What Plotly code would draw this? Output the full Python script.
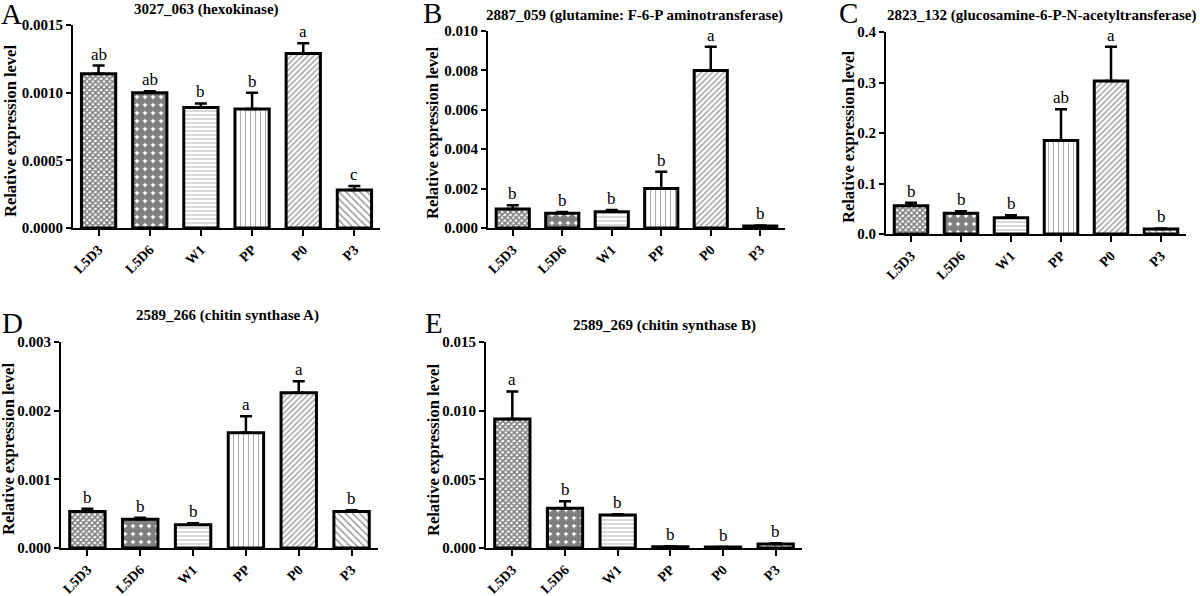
import plotly.graph_objects as go

# ---------------- data ----------------
categories = ["L5D3", "L5D6", "W1", "PP", "P0", "P3"]

A_mean = [0.00114, 0.00100, 0.00089, 0.00088, 0.00129, 0.00028]
A_err = [0.00006, 0.00001, 0.00003, 0.00012, 0.000075, 0.00003]
A_sig = ["ab", "ab", "b", "b", "a", "c"]

B_mean = [0.00097, 0.00075, 0.00082, 0.0020, 0.0080, 0.0001]
B_err = [0.00018, 0.00006, 0.00010, 0.00085, 0.0012, 0.00003]
B_sig = ["b", "b", "b", "b", "a", "b"]

C_mean = [0.056, 0.041, 0.032, 0.185, 0.303, 0.010]
C_err = [0.006, 0.004, 0.005, 0.062, 0.068, 0.001]
C_sig = ["b", "b", "b", "ab", "a", "b"]

D_mean = [0.00053, 0.00042, 0.00034, 0.00168, 0.00226, 0.00053]
D_err = [0.00004, 0.00002, 0.00002, 0.00024, 0.00017, 0.00002]
D_sig = ["b", "b", "b", "a", "a", "b"]

E_mean = [0.0094, 0.0029, 0.0024, 0.0001, 0.00007, 0.0003]
E_err = [0.0020, 0.0005, 0.00005, 0.00003, 0.00001, 0.00005]
E_sig = ["a", "b", "b", "b", "b", "b"]

titles = ["3027_063 (hexokinase)",
          "2887_059 (glutamine: F-6-P aminotransferase)",
          "2823_132 (glucosamine-6-P-N-acetyltransferase)",
          "2589_266 (chitin synthase A)",
          "2589_269 (chitin synthase B)"]
panel_letters = ["A", "B", "C", "D", "E"]
y_ranges = [(0, 0.0015), (0, 0.010), (0, 0.4), (0, 0.003), (0, 0.015)]
y_dticks = [0.0005, 0.002, 0.1, 0.001, 0.005]
y_formats = [".4f", ".3f", ".1f", ".3f", ".3f"]
y_title = "Relative expression level"

# ---------------- styling ----------------
W, H = 1200, 596
FONT = "Liberation Serif"

pat_shapes = ["x", ".", "-", "|", "/", "\\"]
pat_sizes = [4, 8, 4, 5, 4, 5]
pat_solid = [0.65, 0.8, 0.22, 0.2, 0.35, 0.3]
pat_fg = ["#000000", "#000000", "#555555", "#555555", "#333333", "#333333"]

# pixel geometry of each panel: (x_left, x_right, y_top, y_bottom)
boxes = [(73, 380, 25, 228),
         (488, 785, 31, 228),
         (886, 1186, 32, 234),
         (61, 378, 342, 548),
         (486, 802, 342, 548)]
# (x, y, xanchor)
title_pos = [(206, 9, "center"), (634, 15, "center"), (1199, 15, "right"),
             (227, 315, "center"), (664, 325, "center")]
letter_pos = [(11, 14), (432, 13), (848, 13), (12, 323), (434, 323)]
ytitle_pos = [(10, 131), (432, 133), (848, 137), (8, 449), (433, 450)]

means = [A_mean, B_mean, C_mean, D_mean, E_mean]
errs = [A_err, B_err, C_err, D_err, E_err]
sigs = [A_sig, B_sig, C_sig, D_sig, E_sig]

fig = go.Figure()
annotations = []
layout = {}

for i in range(5):
    n = "" if i == 0 else str(i + 1)
    xa, ya = "x" + n, "y" + n
    xl, xr, yt, yb = boxes[i]
    fig.add_trace(go.Bar(
        x=categories, y=means[i], xaxis=xa, yaxis=ya,
        marker=dict(color="white",
                    line=dict(color="black", width=3),
                    pattern=dict(shape=pat_shapes, size=pat_sizes,
                                 solidity=pat_solid, fgcolor=pat_fg,
                                 bgcolor="white", fillmode="overlay")),
        error_y=dict(type="data", array=errs[i],
                     arrayminus=[0] * len(errs[i]), symmetric=False,
                     color="black", thickness=2.5, width=6),
        showlegend=False, hoverinfo="x+y"))

    layout["xaxis" + n] = dict(
        domain=[xl / W, xr / W], anchor=ya, automargin=False,
        showline=True, linecolor="black", linewidth=2,
        ticks="outside", ticklen=6, tickwidth=2, tickcolor="black",
        tickangle=-45, showgrid=False, zeroline=False,
        tickfont=dict(family=FONT, size=14, color="black", weight="bold"),
        range=[-0.5, 5.5])
    layout["yaxis" + n] = dict(
        domain=[1 - yb / H, 1 - yt / H], anchor=xa, automargin=False,
        range=list(y_ranges[i]), dtick=y_dticks[i], tick0=0,
        tickformat=y_formats[i],
        showline=True, linecolor="black", linewidth=2,
        ticks="outside", ticklen=5, tickwidth=2, tickcolor="black",
        showgrid=False, zeroline=False,
        tickfont=dict(family=FONT, size=15, color="black", weight="bold"))

    # significance letters
    for c, m, e, s in zip(categories, means[i], errs[i], sigs[i]):
        annotations.append(dict(
            x=c, y=m + e, xref=xa, yref=ya, text=s, showarrow=False,
            yanchor="bottom", yshift=0,
            font=dict(family=FONT, size=17, color="black")))

    # subplot title
    tx, ty, tanc = title_pos[i]
    annotations.append(dict(
        x=tx / W, y=1 - ty / H, xref="paper", yref="paper",
        text="<b>" + titles[i] + "</b>", showarrow=False,
        xanchor=tanc, yanchor="middle",
        font=dict(family=FONT, size=15, color="black")))
    # panel letter
    lx, ly = letter_pos[i]
    annotations.append(dict(
        x=lx / W, y=1 - ly / H, xref="paper", yref="paper",
        text=panel_letters[i], showarrow=False,
        xanchor="center", yanchor="middle",
        font=dict(family=FONT, size=29, color="black")))
    # y axis title
    px, py = ytitle_pos[i]
    annotations.append(dict(
        x=px / W, y=1 - py / H, xref="paper", yref="paper",
        text="<b>" + y_title + "</b>", showarrow=False, textangle=-90,
        xanchor="center", yanchor="middle",
        font=dict(family=FONT, size=16.5, color="black")))

fig.update_layout(
    width=W, height=H,
    margin=dict(l=0, r=0, t=0, b=0, autoexpand=False),
    paper_bgcolor="white", plot_bgcolor="white",
    bargap=0.33,
    annotations=annotations,
    **layout)

fig.write_html(
    "out.html",
    config={"displayModeBar": False},
    post_script=(
        "document.documentElement.style.margin='0';"
        "document.documentElement.style.overflow='hidden';"
        "document.body.style.margin='0';"
        "document.body.style.overflow='hidden';"
        "var d=document.getElementById('{plot_id}');"
        "d.style.position='fixed';d.style.top='0px';d.style.left='0px';"
    ))
